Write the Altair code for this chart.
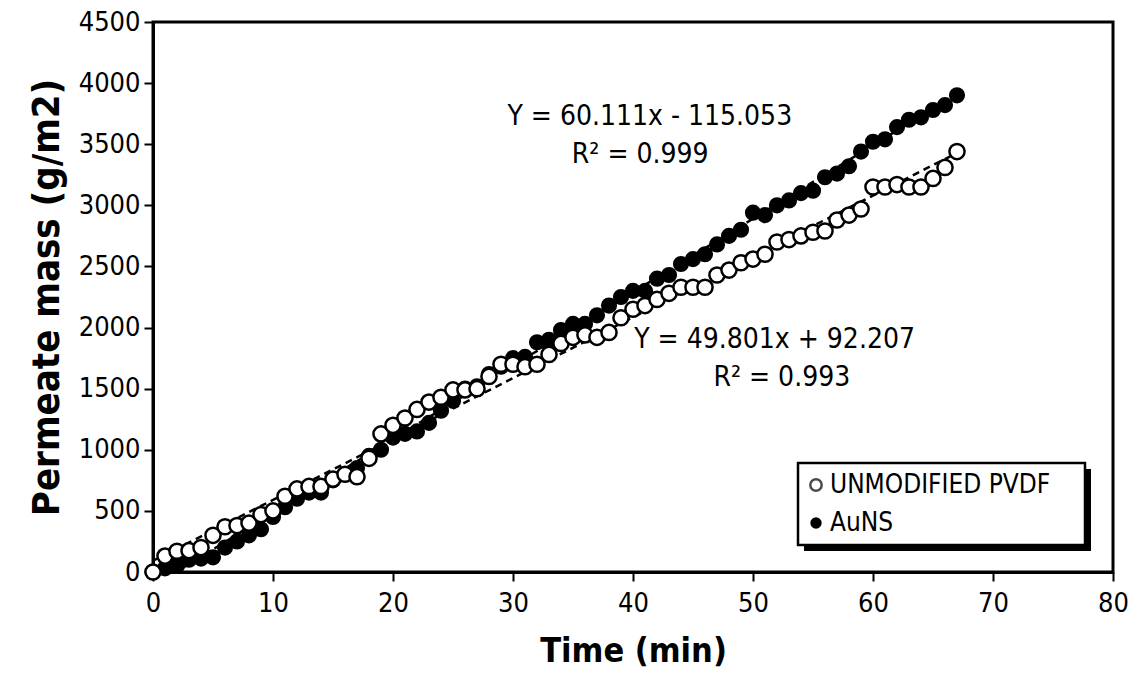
import altair as alt
import pandas as pd

FONT = "DejaVu Sans Condensed, Liberation Sans, sans-serif"

time_min = list(range(68))
pvdf = [0, 130, 170, 175, 200, 300, 370, 380, 400, 470,
        500, 620, 680, 700, 700, 760, 800, 780, 930, 1130,
        1200, 1260, 1330, 1390, 1430, 1490, 1490, 1500, 1600, 1700,
        1700, 1680, 1700, 1780, 1870, 1920, 1940, 1920, 1960, 2080,
        2150, 2180, 2230, 2280, 2330, 2330, 2330, 2430, 2470, 2530,
        2560, 2600, 2700, 2720, 2750, 2780, 2790, 2880, 2920, 2970,
        3150, 3150, 3170, 3150, 3150, 3220, 3310, 3440]
auns = [0, 30, 50, 100, 110, 120, 200, 250, 300, 350,
        450, 530, 600, 650, 650, 750, 800, 850, 950, 1000,
        1100, 1130, 1150, 1220, 1320, 1400, 1500, 1520, 1620, 1680,
        1750, 1760, 1880, 1900, 1980, 2030, 2030, 2100, 2180, 2250,
        2300, 2300, 2400, 2430, 2520, 2560, 2600, 2680, 2750, 2800,
        2940, 2920, 3000, 3040, 3100, 3120, 3230, 3260, 3320, 3440,
        3520, 3540, 3640, 3700, 3720, 3780, 3820, 3900]

series_names = ["UNMODIFIED PVDF", "AuNS"]
slopes = [49.801, 60.111]
intercepts = [92.207, -115.053]
eq_texts = ["Y = 49.801x + 92.207", "Y = 60.111x - 115.053"]
r2_texts = ["R² = 0.993", "R² = 0.999"]
eq_x = [51.8, 41.4]
eq_y = [1898, 3723]
r2_x = [52.4, 40.6]
r2_y = [1587, 3412]

x_ticks = list(range(0, 81, 10))
y_ticks = list(range(0, 4501, 500))

df_p = pd.DataFrame({"t": time_min, "v": pvdf})
df_a = pd.DataFrame({"t": time_min, "v": auns})

trend_rows = []
for name, m, b in zip(series_names, slopes, intercepts):
    for t in [time_min[0], time_min[-1]]:
        trend_rows.append({"series": name, "t": t, "v": m * t + b})
df_trend = pd.DataFrame(trend_rows)

ann_rows = []
for i in range(2):
    ann_rows.append({"t": eq_x[i], "v": eq_y[i], "label": eq_texts[i]})
    ann_rows.append({"t": r2_x[i], "v": r2_y[i], "label": r2_texts[i]})
df_ann = pd.DataFrame(ann_rows)

xs = alt.Scale(domain=[0, 80], nice=False, zero=False)
ys = alt.Scale(domain=[0, 4500], nice=False)

x_axis = alt.Axis(values=x_ticks, title="Time (min)", grid=False, format="d",
                  titleFontSize=34, labelPadding=9, titlePadding=18,
                  labelFlush=False, labelOverlap=False)
y_axis = alt.Axis(values=y_ticks, title="Permeate mass (g/m2)", grid=False, format="d",
                  titleFontSize=38, labelPadding=4, titlePadding=12,
                  labelFlush=False, labelOverlap=False)

trend = alt.Chart(df_trend).mark_line(
    color="black", strokeDash=[7, 5], strokeWidth=2.5, clip=True
).encode(
    x=alt.X("t:Q", scale=xs, axis=x_axis),
    y=alt.Y("v:Q", scale=ys, axis=y_axis),
    detail="series:N",
)

pts_a = alt.Chart(df_a).mark_point(
    shape="circle", filled=True, fill="black", stroke="black",
    strokeWidth=2, size=200, opacity=1
).encode(x=alt.X("t:Q", scale=xs), y=alt.Y("v:Q", scale=ys))

pts_p = alt.Chart(df_p).mark_point(
    shape="circle", filled=False, fill="white", fillOpacity=1, stroke="black",
    strokeWidth=2.5, size=230, opacity=1
).encode(x=alt.X("t:Q", scale=xs), y=alt.Y("v:Q", scale=ys))

ann = alt.Chart(df_ann).mark_text(
    font=FONT, fontSize=28, color="black", align="center", baseline="middle"
).encode(x=alt.X("t:Q", scale=xs), y=alt.Y("v:Q", scale=ys), text="label:N")

# legend (manual, with drop shadow)
one = pd.DataFrame({"k": [0]})
shadow = alt.Chart(one).mark_rect(color="black").encode(
    x=alt.value(651), x2=alt.value(938), y=alt.value(447), y2=alt.value(529))
box = alt.Chart(one).mark_rect(fill="white", stroke="black", strokeWidth=2.5).encode(
    x=alt.value(645), x2=alt.value(932), y=alt.value(441), y2=alt.value(523))
leg_p = alt.Chart(one).mark_point(shape="circle", filled=False, stroke="black",
                                   strokeWidth=2.5, size=130).encode(
    x=alt.value(663), y=alt.value(463))
leg_a = alt.Chart(one).mark_point(shape="circle", filled=True, color="black",
                                   size=130, opacity=1).encode(
    x=alt.value(663), y=alt.value(501))
leg_t1 = alt.Chart(one).mark_text(font=FONT, fontSize=26, align="left",
                                   baseline="middle", color="black").encode(
    x=alt.value(677), y=alt.value(463), text=alt.value(series_names[0]))
leg_t2 = alt.Chart(one).mark_text(font=FONT, fontSize=26, align="left",
                                   baseline="middle", color="black").encode(
    x=alt.value(677), y=alt.value(501), text=alt.value(series_names[1]))

chart = alt.layer(
    trend, pts_a, pts_p, ann, shadow, box, leg_p, leg_a, leg_t1, leg_t2
).properties(
    width=960, height=550,
    autosize=alt.AutoSizeParams(type="none"),
    padding={"left": 153, "top": 22, "right": 19, "bottom": 105},
).configure_view(
    stroke="black", strokeWidth=3
).configure_axis(
    domainColor="black", domainWidth=3, tickColor="black", tickWidth=2,
    tickSize=9, labelFont=FONT, labelFontSize=27, labelColor="black",
    titleFont=FONT, titleFontWeight="bold", titleColor="black",
)

chart.save("out.html", embed_options={"renderer": "svg", "actions": False})
